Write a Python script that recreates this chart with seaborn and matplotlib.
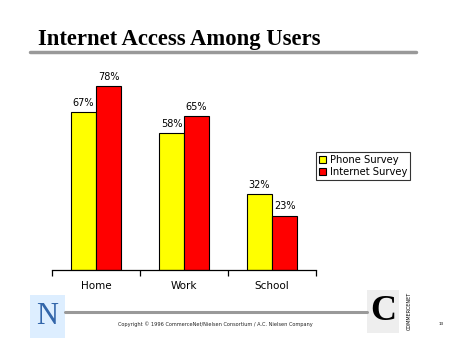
import matplotlib
matplotlib.use("Agg")
import matplotlib.pyplot as plt
import seaborn as sns
import pandas as pd
from matplotlib.patches import Rectangle
from matplotlib.lines import Line2D

categories = ["Home", "Work", "School"]
phone_survey = [67, 58, 32]
internet_survey = [78, 65, 23]
series_names = ["Phone Survey", "Internet Survey"]
colors = ["#FFFF00", "#FF0000"]

df = pd.DataFrame({
    "place": categories * 2,
    "value": phone_survey + internet_survey,
    "survey": [series_names[0]] * 3 + [series_names[1]] * 3,
})

sns.set_theme(style="white")
plt.rcParams["font.family"] = ["DejaVu Sans"]
plt.rcParams["text.color"] = "black"
plt.rcParams["xtick.color"] = "black"

fig = plt.figure(figsize=(4.52, 3.39), dpi=100)
fig.patch.set_facecolor("white")
ax = fig.add_axes([52 / 452, 69 / 339, 264 / 452, 189 / 339])

sns.barplot(data=df, x="place", y="value", hue="survey", palette=colors,
            saturation=1, width=0.57, edgecolor="black", linewidth=0.8,
            ax=ax, legend=False)

for container in ax.containers:
    ax.bar_label(container, labels=[f"{v:.0f}%" for v in container.datavalues],
                 padding=3, fontsize=7, color="black")

ax.set_ylim(0, 80)
ax.set_xlim(-0.5, 2.5)
ax.set_xlabel("")
ax.set_ylabel("")
ax.set_yticks([])
for side in ["top", "right", "left"]:
    ax.spines[side].set_visible(False)
ax.spines["bottom"].set_color("black")
ax.spines["bottom"].set_linewidth(0.9)
ax.set_xticks([0, 1, 2])
ax.set_xticklabels(categories, fontsize=7.5, color="black")
ax.set_xticks([-0.5, 0.5, 1.5, 2.5], minor=True)
ax.tick_params(axis="x", which="major", length=0, pad=8)
ax.tick_params(axis="x", which="minor", length=4, width=0.9, color="black",
               direction="out", bottom=True)

# legend
handles = [Rectangle((0, 0), 1, 1, facecolor=c, edgecolor="black", linewidth=0.8)
           for c in colors]
leg = fig.legend(handles, series_names, loc="upper left",
                 bbox_to_anchor=(316 / 452, 1 - 152 / 339), fontsize=7.2,
                 frameon=True, fancybox=False, borderpad=0.3,
                 handlelength=0.75, handleheight=0.75, handletextpad=0.35,
                 labelspacing=0.2, borderaxespad=0)
leg.get_frame().set_edgecolor("black")
leg.get_frame().set_linewidth(0.8)
for t in leg.get_texts():
    t.set_color("black")

# title and rule
fig.text(38 / 452, 1 - 45 / 339, "Internet Access Among Users",
         family="Liberation Serif", weight="bold", fontsize=16.3, ha="left",
         va="baseline", color="black")
fig.add_artist(Line2D([30 / 452, 416 / 452], [1 - 51.5 / 339] * 2,
                      color="#999999", linewidth=2.5))

# footer
fig.add_artist(Line2D([65 / 452, 367 / 452], [1 - 311.5 / 339] * 2,
                      color="#999999", linewidth=2.2))
fig.text(215 / 452, 1 - 324 / 339,
         "Copyright © 1996 CommerceNet/Nielsen Consortium / A.C. Nielsen Company",
         fontsize=3.6, ha="center", va="center", color="#222222")
fig.text(441 / 452, 1 - 324 / 339, "13", fontsize=3, ha="center", va="center")

# left logo
fig.add_artist(Rectangle((30 / 452, 1 - 338 / 339), 35 / 452, 43 / 339,
                         facecolor="#DDEEFF", edgecolor="none",
                         transform=fig.transFigure))
fig.text(47.5 / 452, 1 - 316 / 339, "N", family="Liberation Serif",
         fontsize=22, ha="center", va="center", color="#3366AA")

# right logo
fig.add_artist(Rectangle((367 / 452, 1 - 333 / 339), 32 / 452, 43 / 339,
                         facecolor="#EEEEEE", edgecolor="none",
                         transform=fig.transFigure))
fig.text(383 / 452, 1 - 311 / 339, "C", family="Liberation Serif",
         weight="bold", fontsize=26, ha="center", va="center", color="black")
fig.text(409 / 452, 1 - 311 / 339, "COMMERCENET", rotation=90, fontsize=3.5,
         ha="center", va="center", color="black")

fig.savefig("out.png", dpi=100, facecolor="white")
